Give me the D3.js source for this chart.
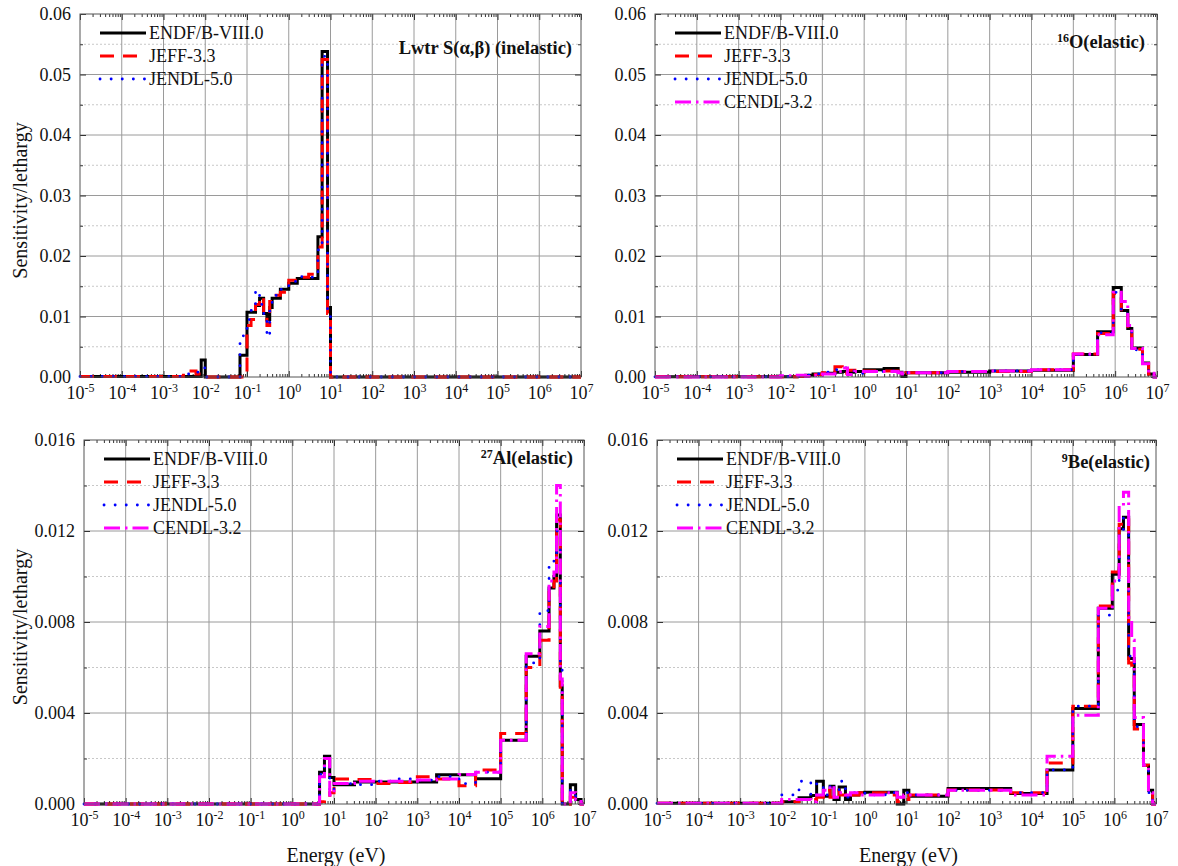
<!DOCTYPE html>
<html>
<head>
<meta charset="UTF-8">
<title>Sensitivity per lethargy</title>
<style>
  body { margin: 0; background: #fff; }
  svg text { font-family: "Liberation Serif", "Times New Roman", serif; fill: #111; }
  .tick line { stroke: #333; }
</style>
</head>
<body>
<div id="chart"></div>
<script src="https://d3js.org/d3.v7.min.js"></script>
<script>

// library names, drawn in this order
const libNames = ["ENDF/B-VIII.0", "JEFF-3.3", "JENDL-5.0", "CENDL-3.2"];

// Lwtr S(a,b) inelastic: group boundaries (eV) and values per group
const lwtrE = [1e-5, 3e-3, 6e-3, 8e-3, 1e-2, 6.8e-2, 0.1, 0.125, 0.16, 0.2, 0.25, 0.3, 0.35, 0.4, 0.5, 0.63, 1, 1.6, 3, 5, 6.3, 8.5, 10, 1e7];
const lwtrEndf  = [0.0001, 0.0001, 0.0001, 0.0028, 0, 0.0036, 0.0107, 0.0107, 0.0118, 0.013, 0.0105, 0.0095, 0.0115, 0.013, 0.013, 0.0145, 0.0155, 0.0163, 0.0163, 0.0232, 0.0538, 0.0115, 0];
const lwtrJeff  = [0.0001, 0.001, 0.0005, 0.0002, 0, 0, 0.0085, 0.0095, 0.012, 0.0132, 0.0098, 0.0085, 0.0125, 0.013, 0.0135, 0.014, 0.016, 0.0165, 0.017, 0.0215, 0.0525, 0.0105, 0];
const lwtrJendl = [0.0001, 0.0005, 0.0008, 0.0015, 0, 0.0068, 0.0095, 0.011, 0.0143, 0.012, 0.0105, 0.0066, 0.012, 0.013, 0.0135, 0.0145, 0.0158, 0.0166, 0.0165, 0.021, 0.053, 0.011, 0];

// 16O elastic
const oxyE = [1e-5, 1e-2, 2.5e-2, 4e-2, 6e-2, 0.1, 0.2, 0.3, 0.4, 0.6, 1, 3, 6.5, 8, 10, 100, 1e3, 1e4, 1e5, 3.8e5, 9e5, 1.4e6, 2e6, 2.5e6, 4.5e6, 6.3e6, 8.5e6, 1e7];
const oxyEndf  = [0.00003, 0.00005, 0.0001, 0.0003, 0.0005, 0.0006, 0.0008, 0.0009, 0.0008, 0.0009, 0.0012, 0.0014, 0.0008, 0.0001, 0.0007, 0.0008, 0.001, 0.0011, 0.0037, 0.0075, 0.0148, 0.011, 0.008, 0.0048, 0.0023, 0.0005, 0];
const oxyJeff  = [0.00003, 0.00005, 0.0001, 0.0002, 0.0004, 0.0007, 0.0017, 0.0006, 0.0011, 0.0008, 0.001, 0.001, 0.0009, 0.0006, 0.0007, 0.0009, 0.0009, 0.0012, 0.0038, 0.0072, 0.0138, 0.0108, 0.0078, 0.0046, 0.0022, 0.0005, 0];
const oxyJendl = [0.00003, 0.00005, 0.0001, 0.0003, 0.0005, 0.0008, 0.0012, 0.0015, 0.001, 0.0006, 0.0009, 0.001, 0.0007, 0.0002, 0.0007, 0.0009, 0.001, 0.0012, 0.0037, 0.0073, 0.014, 0.0105, 0.008, 0.0045, 0.0022, 0.0005, 0];
const oxyCendl = [0.00002, 0.0002, 0.0003, 0.0001, 0.0003, 0.0005, 0.0009, 0.0015, 0.0004, 0.0009, 0.0009, 0.0009, 0.0007, 0.0005, 0.0007, 0.0009, 0.001, 0.0012, 0.0038, 0.007, 0.014, 0.0125, 0.0085, 0.0047, 0.0022, 0.0006, 0];

// 27Al elastic
const alE = [1e-5, 4.5, 5.9, 7.9, 10, 31, 100, 300, 1e3, 2.9e3, 1e4, 2.5e4, 1e5, 4.1e5, 8.7e5, 1.45e6, 1.9e6, 2.2e6, 2.7e6, 3e6, 4.7e6, 6.3e6, 8.5e6, 1e7];
const alEndf  = [0, 0.0014, 0.0021, 0.00116, 0.00085, 0.00097, 0.00097, 0.00097, 0.00097, 0.00129, 0.00129, 0.00111, 0.0028, 0.0065, 0.0076, 0.0095, 0.01, 0.0127, 0.0052, 0, 0.00085, 0.0002, 0];
const alJeff  = [0, 0.0001, 0.0002, 0.0005, 0.0011, 0.00108, 0.0009, 0.00095, 0.0012, 0.0011, 0.0008, 0.0015, 0.0031, 0.006, 0.0072, 0.0093, 0.0098, 0.0125, 0.005, 0, 0.0003, 0.0003, 0];
const alJendl = [0, 0.0013, 0.002, 0.0005, 0.0009, 0.00085, 0.001, 0.0011, 0.00105, 0.0012, 0.0009, 0.0014, 0.0028, 0.0062, 0.0085, 0.0106, 0.0108, 0.012, 0.006, 0, 0.0006, 0.0002, 0];
const alCendl = [0, 0.0012, 0.002, 0.0004, 0.0009, 0.001, 0.001, 0.001, 0.00105, 0.0011, 0.0013, 0.0014, 0.0028, 0.0066, 0.0078, 0.0098, 0.0102, 0.014, 0.0055, 0, 0.0005, 0.0002, 0];

// 9Be elastic
const beE = [1e-5, 1e-2, 2.6e-2, 5e-2, 6.9e-2, 0.1, 0.145, 0.18, 0.24, 0.34, 0.45, 0.72, 1, 3.1, 6, 8.6, 11.4, 100, 3.2e3, 2.4e4, 1e5, 4.1e5, 8.9e5, 1.3e6, 1.65e6, 2.2e6, 2.6e6, 3e6, 5e6, 6.6e6, 8.3e6, 1e7];
const beEndf  = [0.00003, 0.0001, 0.00027, 0.00037, 0.001, 0.00034, 0.00078, 0.0002, 0.00075, 0.0002, 0.0004, 0.00049, 0.00052, 0.00052, 0, 0.0006, 0.00034, 0.00068, 0.00046, 0.0015, 0.0042, 0.0086, 0.0101, 0.0121, 0.0126, 0.0064, 0.0064, 0.0035, 0.0017, 0.0006, 0];
const beJeff  = [0.00003, 0.0001, 0.0002, 0.0002, 0.0003, 0.0006, 0.0003, 0.0006, 0.0004, 0.0005, 0.0004, 0.0005, 0.0005, 0.0004, 0.0001, 0.0002, 0.0004, 0.00062, 0.0005, 0.0018, 0.0043, 0.0087, 0.0102, 0.0123, 0.0125, 0.0062, 0.0061, 0.0033, 0.0017, 0.0006, 0];
const beJendl = [0.00003, 0.0004, 0.001, 0.0003, 0.0009, 0.0004, 0.0009, 0.0003, 0.001, 0.0003, 0.0005, 0.0005, 0.0004, 0.0005, 0.0003, 0.0005, 0.0004, 0.0006, 0.0005, 0.0015, 0.0043, 0.0083, 0.0094, 0.012, 0.0128, 0.0065, 0.0065, 0.0034, 0.0016, 0.0005, 0];
const beCendl = [0.00003, 0.0002, 0.0002, 0.0001, 0.0004, 0.0006, 0.0008, 0.0003, 0.0005, 0.0004, 0.0005, 0.0004, 0.0004, 0.0005, 0.0003, 0.0004, 0.0004, 0.0006, 0.0004, 0.0021, 0.0039, 0.0086, 0.0098, 0.0131, 0.0137, 0.0082, 0.0072, 0.0038, 0.0017, 0.0005, 0];

// axis ticks
const xDecades = [-5, -4, -3, -2, -1, 0, 1, 2, 3, 4, 5, 6, 7];
const yTicksTop = [0, 0.01, 0.02, 0.03, 0.04, 0.05, 0.06];
const yTicksBottom = [0, 0.004, 0.008, 0.012, 0.016];

const serif = '"Liberation Serif", "Times New Roman", serif';

const libStyles = [
  {color: "#000000", width: 3, dash: null, cap: "butt"},
  {color: "#ff0000", width: 3, dash: "14,9", cap: "butt"},
  {color: "#0000ff", width: 2.8, dash: "0.1,11", cap: "round"},
  {color: "#ff00ff", width: 3, dash: "16,5,2.5,5", cap: "butt"}
];

const panels = [
  {title: [["Lwtr S(α,β) (inelastic)", false]], E: lwtrE, series: [lwtrEndf, lwtrJeff, lwtrJendl],
   yTicks: yTicksTop, fmt: d3.format(".2f"), l: 80, r: 581, t: 14, b: 377, yLabel: true, xLabel: false, titleY: 48, titleR: 9},
  {title: [["16", true], ["O(elastic)", false]], E: oxyE, series: [oxyEndf, oxyJeff, oxyJendl, oxyCendl],
   yTicks: yTicksTop, fmt: d3.format(".2f"), l: 655, r: 1157, t: 14, b: 377, yLabel: false, xLabel: false, titleY: 48, titleR: 12},
  {title: [["27", true], ["Al(elastic)", false]], E: alE, series: [alEndf, alJeff, alJendl, alCendl],
   yTicks: yTicksBottom, fmt: d3.format(".3f"), l: 84, r: 584, t: 440, b: 804, yLabel: true, xLabel: true, titleY: 464, titleR: 11},
  {title: [["9", true], ["Be(elastic)", false]], E: beE, series: [beEndf, beJeff, beJendl, beCendl],
   yTicks: yTicksBottom, fmt: d3.format(".3f"), l: 657, r: 1156, t: 440, b: 804, yLabel: false, xLabel: true, titleY: 468, titleR: 6}
];

const width = 1178, height = 866;
const svg = d3.select("#chart").append("svg")
  .attr("width", width).attr("height", height)
  .attr("font-family", serif);

panels.forEach(p => {
  const x = d3.scaleLog().domain([1e-5, 1e7]).range([p.l, p.r]);
  const yMax = p.yTicks[p.yTicks.length - 1];
  const y = d3.scaleLinear().domain([0, yMax]).range([p.b, p.t]);
  const step = p.yTicks[1];
  const g = svg.append("g");

  const decades = xDecades.map(k => Math.pow(10, k));
  const minors = [];
  xDecades.slice(0, -1).forEach(k => {
    for (let m = 2; m <= 9; m++) minors.push(m * Math.pow(10, k));
  });
  const yMinor = p.yTicks.slice(0, -1).map(v => v + step / 2);

  // grid
  g.append("g").selectAll("line").data(yMinor).join("line")
    .attr("x1", p.l).attr("x2", p.r)
    .attr("y1", d => y(d)).attr("y2", d => y(d))
    .attr("stroke", "#c8c8c8").attr("stroke-dasharray", "2,2");
  g.append("g").selectAll("line").data(p.yTicks.slice(1, -1)).join("line")
    .attr("x1", p.l).attr("x2", p.r)
    .attr("y1", d => y(d)).attr("y2", d => y(d))
    .attr("stroke", "#9a9a9a");
  g.append("g").selectAll("line").data(decades.slice(1, -1)).join("line")
    .attr("x1", d => x(d)).attr("x2", d => x(d))
    .attr("y1", p.t).attr("y2", p.b)
    .attr("stroke", "#9a9a9a");

  // axes, ticks pointing inward
  const xb = g.append("g").attr("transform", `translate(0,${p.b})`)
    .call(d3.axisBottom(x).tickValues(decades).tickSize(-6).tickPadding(9).tickFormat(""))
    .attr("font-family", serif);
  xb.selectAll(".tick text")
    .attr("font-size", "18px")
    .each(function(d) {
      const t = d3.select(this);
      t.append("tspan").text("10");
      t.append("tspan").attr("dy", "-0.55em").attr("font-size", "12px")
        .text(Math.round(Math.log10(d)));
    });
  g.append("g").attr("transform", `translate(0,${p.b})`)
    .call(d3.axisBottom(x).tickValues(minors).tickSize(-3).tickFormat(""));
  g.append("g").attr("transform", `translate(0,${p.t})`)
    .call(d3.axisTop(x).tickValues(decades).tickSize(-6).tickFormat(""));
  g.append("g").attr("transform", `translate(0,${p.t})`)
    .call(d3.axisTop(x).tickValues(minors).tickSize(-3).tickFormat(""));

  g.append("g").attr("transform", `translate(${p.l},0)`)
    .call(d3.axisLeft(y).tickValues(p.yTicks).tickSize(-6).tickPadding(9).tickFormat(p.fmt))
    .attr("font-family", serif)
    .selectAll(".tick text").attr("font-size", "18px");
  g.append("g").attr("transform", `translate(${p.l},0)`)
    .call(d3.axisLeft(y).tickValues(yMinor).tickSize(-3).tickFormat(""));
  g.append("g").attr("transform", `translate(${p.r},0)`)
    .call(d3.axisRight(y).tickValues(p.yTicks).tickSize(-6).tickFormat(""));
  g.append("g").attr("transform", `translate(${p.r},0)`)
    .call(d3.axisRight(y).tickValues(yMinor).tickSize(-3).tickFormat(""));
  g.selectAll(".domain").remove();

  // step curves
  const line = d3.line().x(d => x(d[0])).y(d => y(d[1])).curve(d3.curveStepAfter);
  p.series.forEach((vals, i) => {
    const pts = vals.map((v, j) => [p.E[j], v]);
    pts.push([p.E[vals.length], vals[vals.length - 1]]);
    const s = libStyles[i];
    g.append("path").datum(pts)
      .attr("d", line)
      .attr("fill", "none")
      .attr("stroke", s.color)
      .attr("stroke-width", s.width)
      .attr("stroke-dasharray", s.dash)
      .attr("stroke-linecap", s.cap)
      .attr("stroke-linejoin", "miter");
  });

  // frame
  g.append("rect")
    .attr("x", p.l).attr("y", p.t)
    .attr("width", p.r - p.l).attr("height", p.b - p.t)
    .attr("fill", "none").attr("stroke", "#555");

  // legend
  const lx = p.l + 20, ly = p.t + 19;
  p.series.forEach((vals, i) => {
    const s = libStyles[i];
    g.append("line")
      .attr("x1", lx).attr("x2", lx + 46)
      .attr("y1", ly + i * 23).attr("y2", ly + i * 23)
      .attr("stroke", s.color)
      .attr("stroke-width", s.width)
      .attr("stroke-dasharray", s.dash)
      .attr("stroke-linecap", s.cap);
    g.append("text")
      .attr("x", lx + 49).attr("y", ly + i * 23)
      .attr("dy", "0.35em")
      .attr("font-size", "18px")
      .text(libNames[i]);
  });

  // title
  const tt = g.append("text")
    .attr("x", p.r - p.titleR).attr("y", p.titleY)
    .attr("dy", "0.35em")
    .attr("text-anchor", "end")
    .attr("font-weight", "bold")
    .attr("font-size", "18.5px");
  p.title.forEach(([txt, sup]) => {
    if (sup) {
      tt.append("tspan").attr("font-size", "12px").attr("dy", "-0.5em").text(txt);
    } else {
      tt.append("tspan").attr("dy", p.title.length > 1 ? "0.32em" : null).text(txt);
    }
  });

  if (p.yLabel) {
    g.append("text")
      .attr("transform", `translate(20,${(p.t + p.b) / 2 + 5}) rotate(-90)`)
      .attr("text-anchor", "middle")
      .attr("dy", "0.35em")
      .attr("font-size", "20px")
      .text("Sensitivity/lethargy");
  }
  if (p.xLabel) {
    g.append("text")
      .attr("x", (p.l + p.r) / 2 + 2).attr("y", 862)
      .attr("text-anchor", "middle")
      .attr("font-size", "20px")
      .text("Energy (eV)");
  }
});

</script>
</body>
</html>
